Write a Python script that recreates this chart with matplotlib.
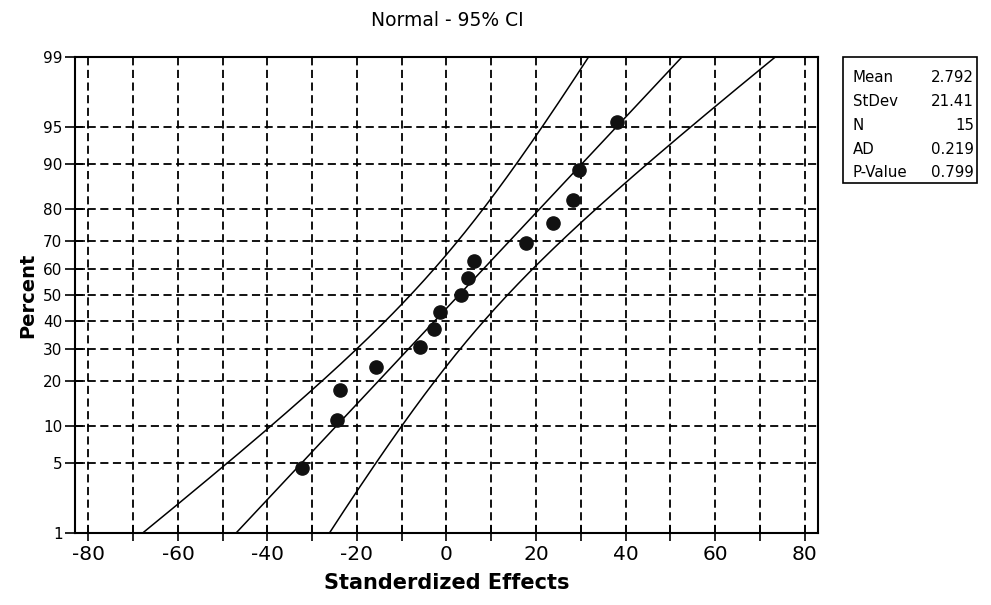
import matplotlib.pyplot as plt
import matplotlib.patches as mpatches
import numpy as np
from statistics import NormalDist

# standardized effects, ordered
effects = [-32.3, -24.5, -23.8, -15.7, -6.0, -2.9, -1.5, 3.2, 4.9,
           6.1, 17.8, 23.8, 28.3, 29.5, 38.0]
pct_ticks = [1, 5, 10, 20, 30, 40, 50, 60, 70, 80, 90, 95, 99]
x_major = [-80, -60, -40, -20, 0, 20, 40, 60, 80]
x_minor = [-70, -50, -30, -10, 10, 30, 50, 70]
stat_names = ['Mean', 'StDev', 'N', 'AD', 'P-Value']
stat_values = ['2.792', '21.41', '15', '0.219', '0.799']
mean, stdev = 2.792, 21.41

plt.rcParams['axes.unicode_minus'] = False

nd = NormalDist()
n = len(effects)
ranks = [(i + 1 - 0.3) / (n + 0.4) for i in range(n)]
z_pts = [nd.inv_cdf(p) for p in ranks]

z_lo, z_hi = nd.inv_cdf(0.01), nd.inv_cdf(0.99)
zz = np.linspace(z_lo - 0.05, z_hi + 0.05, 300)
fit = mean + zz * stdev
half = 1.96 * stdev / np.sqrt(n) * np.sqrt(1 + zz ** 2 / 2)

fig = plt.figure(figsize=(9.91, 6.05), dpi=100)
ax = fig.add_axes([75 / 991, 1 - 533 / 605, (818 - 75) / 991, (533 - 57) / 605])

grid_style = dict(color='black', lw=1.3, linestyle=(0, (4.5, 2.5)))
for xv in x_major + x_minor:
    ax.axvline(xv, zorder=1, **grid_style)
for pv in pct_ticks[1:-1]:
    ax.axhline(nd.inv_cdf(pv / 100), zorder=1, **grid_style)

ax.plot(fit, zz, color='black', lw=1.1, zorder=2)
ax.plot(fit - half, zz, color='black', lw=1.1, zorder=2)
ax.plot(fit + half, zz, color='black', lw=1.1, zorder=2)
ax.plot(effects, z_pts, 'o', color='#111111', ms=9.5, zorder=3)

ax.set_xlim(-83, 83)
ax.set_ylim(z_lo, z_hi)
ax.set_xticks(x_major)
ax.set_xticks(x_minor, minor=True)
ax.set_yticks([nd.inv_cdf(p / 100) for p in pct_ticks])
ax.set_yticklabels([str(p) for p in pct_ticks])
ax.tick_params(axis='x', which='both', direction='inout', length=12, width=1.2,
               labelsize=14.5, pad=3)
ax.tick_params(axis='y', direction='inout', length=14, width=1.2,
               labelsize=11, pad=2)
for sp in ax.spines.values():
    sp.set_linewidth(1.5)

ax.set_xlabel('Standerdized Effects', fontsize=15, fontweight='bold', labelpad=6)
ax.set_ylabel('Percent', fontsize=14, fontweight='bold', labelpad=4)
fig.text(447 / 991, 1 - 20 / 605, 'Normal - 95% CI', fontsize=13.5,
         ha='center', va='center')

# stats box
bx0, bx1, by0, by1 = 843, 977, 57, 183
fig.patches.append(mpatches.Rectangle((bx0 / 991, 1 - by1 / 605),
                                      (bx1 - bx0) / 991, (by1 - by0) / 605,
                                      transform=fig.transFigure, fill=False,
                                      lw=1.2, ec='black'))
row_y = [78, 102, 126, 149, 172]
for name, val, ypx in zip(stat_names, stat_values, row_y):
    fig.text(853 / 991, 1 - ypx / 605, name, fontsize=10.8, va='center', ha='left')
    fig.text(974 / 991, 1 - ypx / 605, val, fontsize=10.8, va='center', ha='right')

fig.savefig('out.png', dpi=100)
